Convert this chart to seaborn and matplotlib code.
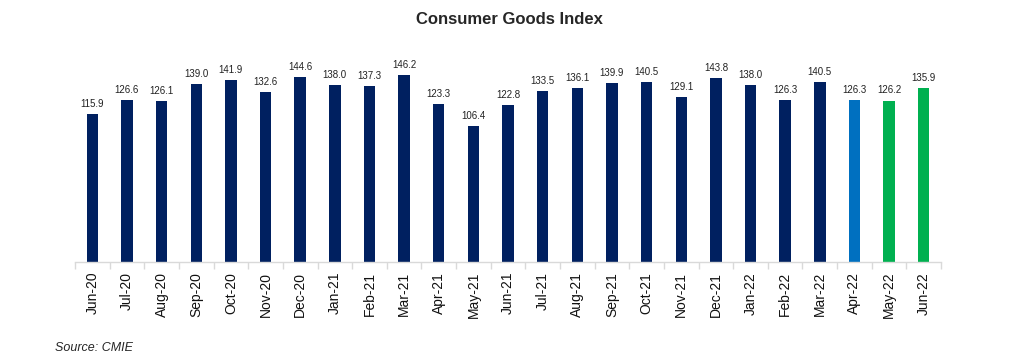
import pandas as pd
import numpy as np
import matplotlib
matplotlib.use("Agg")
import matplotlib.pyplot as plt
import seaborn as sns

months = ["Jun-20", "Jul-20", "Aug-20", "Sep-20", "Oct-20", "Nov-20", "Dec-20",
          "Jan-21", "Feb-21", "Mar-21", "Apr-21", "May-21", "Jun-21", "Jul-21",
          "Aug-21", "Sep-21", "Oct-21", "Nov-21", "Dec-21", "Jan-22", "Feb-22",
          "Mar-22", "Apr-22", "May-22", "Jun-22"]
values = [115.9, 126.6, 126.1, 139.0, 141.9, 132.6, 144.6, 138.0, 137.3, 146.2,
          123.3, 106.4, 122.8, 133.5, 136.1, 139.9, 140.5, 129.1, 143.8, 138.0,
          126.3, 140.5, 126.3, 126.2, 135.9]
bar_colors = ["#002060"] * 22 + ["#0070C0", "#00B050", "#00B050"]

df = pd.DataFrame({"month": months, "value": values})

sns.set_theme(style="white")
plt.rcParams["font.family"] = ["Liberation Sans", "DejaVu Sans"]

fig = plt.figure(figsize=(10.18, 3.63), dpi=100)
ax = fig.add_axes([0.0737, 0.278, 0.8507, 0.584])

sns.barplot(data=df, x="month", y="value", hue="month",
            palette=dict(zip(months, bar_colors)), legend=False,
            width=0.33, saturation=1, linewidth=0, ax=ax)

for i, v in enumerate(values):
    ax.text(i, v + 4, f"{v:.1f}", ha="center", va="bottom", fontsize=7, color="#222222")

ax.set_ylim(0, 165.6)
ax.set_xlim(-0.5, len(months) - 0.5)
ax.set_yticks([])
ax.set_xlabel("")
ax.set_ylabel("")
for s in ["top", "right", "left"]:
    ax.spines[s].set_visible(False)
ax.spines["bottom"].set_color("#d9d9d9")
ax.spines["bottom"].set_linewidth(1)

ax.set_xticks(range(len(months)))
ax.set_xticklabels(months, rotation=90, fontsize=10, color="#111111")
ax.tick_params(axis="x", which="major", length=0, pad=7)
ax.set_xticks(np.arange(-0.5, len(months)), minor=True)
ax.tick_params(axis="x", which="minor", length=5, color="#d9d9d9", width=1, bottom=True)

fig.text(0.5, 0.945, "Consumer Goods Index", ha="center", va="center",
         fontsize=12, fontweight="bold")
fig.text(0.054, 0.04, "Source: CMIE", ha="left", va="center",
         fontsize=9, style="italic")

fig.savefig("out.png", dpi=100)
